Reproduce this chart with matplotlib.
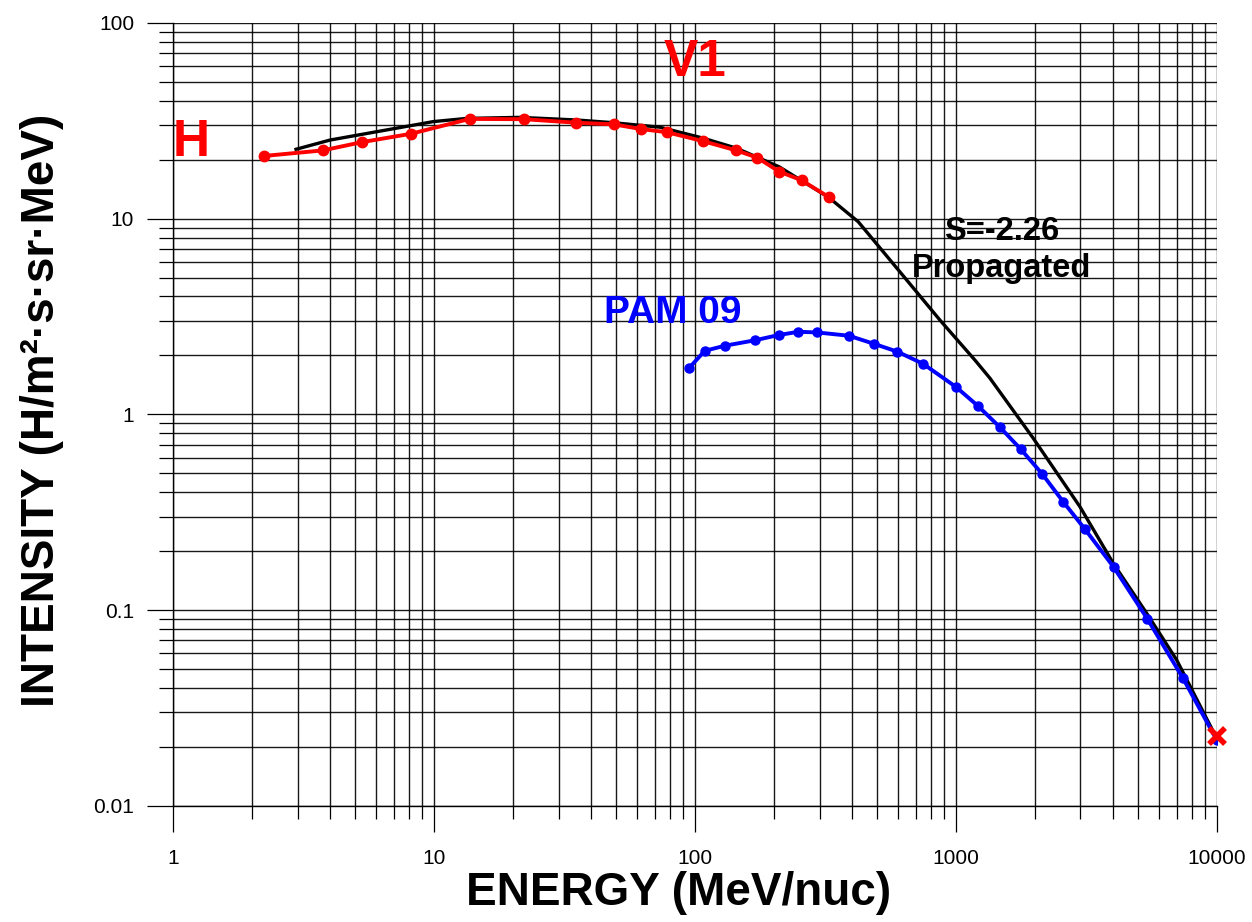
import matplotlib
matplotlib.use("Agg")
import matplotlib.pyplot as plt
from matplotlib.ticker import LogLocator, NullFormatter, FuncFormatter

plt.rcParams['font.family'] = ['Liberation Sans', 'DejaVu Sans']

# Voyager 1 hydrogen spectrum (red)
h_energy = [2.24, 3.75, 5.31, 8.14, 13.7, 22.1, 35.0, 48.9, 61.9, 78.3,
            107, 144, 173, 210, 256, 325]
h_flux = [20.9, 22.3, 24.6, 27.1, 32.3, 32.2, 30.9, 30.3, 28.7, 27.6,
          24.9, 22.3, 20.5, 17.4, 15.7, 12.9]

# PAMELA 2009 (blue)
pam_energy = [94.8, 109, 130, 170, 209, 249, 294, 389, 486, 596, 749,
              1000, 1217, 1474, 1774, 2142, 2577, 3127, 4030, 5407, 7413, 9974]
pam_flux = [1.72, 2.11, 2.24, 2.39, 2.54, 2.64, 2.62, 2.52, 2.29, 2.09, 1.81,
            1.38, 1.10, 0.859, 0.662, 0.495, 0.357, 0.258, 0.165, 0.0903, 0.0448, 0.0217]

# propagated spectrum, S=-2.26 (black)
prop_energy = [2.96, 4.0, 9.94, 13.35, 21.3, 35.2, 48.6, 73.4, 107, 144, 210,
               325, 422, 647, 868, 1183, 1349, 1978, 2986, 4008, 5381, 7013, 9700]
prop_flux = [22.6, 25.2, 31.3, 32.5, 32.9, 31.9, 30.9, 29.3, 25.8, 22.9, 18.4,
             12.85, 9.64, 4.86, 3.03, 1.89, 1.53, 0.754, 0.337, 0.173, 0.0962, 0.0555, 0.0238]

# high energy end point (red x)
end_energy = [10000]
end_flux = [0.0228]

fig = plt.figure(figsize=(12.52, 9.22), dpi=100)
ax = fig.add_axes([0.1382, 0.1261, 0.9720 - 0.1382, 0.9752 - 0.1261])

ax.plot(prop_energy, prop_flux, color='black', linewidth=2.4, zorder=3)
ax.plot(pam_energy, pam_flux, color='#0000ff', linewidth=2.8, marker='o',
        markersize=6.5, zorder=4)
ax.plot(h_energy, h_flux, color='#ff0000', linewidth=2.8, marker='o',
        markersize=7.5, zorder=5)
ax.plot(end_energy, end_flux, linestyle='none', marker='x', color='#ff0000',
        markersize=12, markeredgewidth=4, zorder=6, clip_on=False)

ax.set_xscale('log')
ax.set_yscale('log')
ax.set_xlim(1, 10000)
ax.set_ylim(0.01, 100)

for axis in (ax.xaxis, ax.yaxis):
    axis.set_major_locator(LogLocator(base=10))
    axis.set_minor_locator(LogLocator(base=10, subs=range(2, 10)))
    axis.set_minor_formatter(NullFormatter())
    axis.set_major_formatter(FuncFormatter(lambda v, p: '%g' % v))

ax.grid(True, which='both', color='black', linewidth=1.0, alpha=0.9)
ax.set_axisbelow(True)

ax.tick_params(axis='x', which='major', length=19, width=0.9, pad=12, labelsize=15)
ax.tick_params(axis='x', which='minor', length=9, width=0.9)
ax.tick_params(axis='y', which='major', length=19, width=0.9, pad=9, labelsize=15)
ax.tick_params(axis='y', which='minor', length=10, width=0.9)

for s in ax.spines.values():
    s.set_linewidth(1.0)
ax.spines['top'].set_visible(False)
ax.spines['right'].set_visible(False)

# labels in the plot
ax.text(1.17, 24.4, 'H', color='#ff0000', fontsize=37, fontweight='bold',
        ha='center', va='center')
ax.text(100, 62.5, 'V1', color='#ff0000', fontsize=37, fontweight='bold',
        ha='center', va='center')
ax.text(82.4, 3.31, 'PAM 09', color='#0000ff', fontsize=28, fontweight='bold',
        ha='center', va='center')
ax.text(1500, 8.54, 'S=-2.26', color='black', fontsize=23.5, fontweight='bold',
        ha='center', va='center')
ax.text(1500, 5.59, 'Propagated', color='black', fontsize=23.5, fontweight='bold',
        ha='center', va='center')

fig.text(0.5423, 0.018, 'ENERGY (MeV/nuc)', fontsize=33, fontweight='bold',
         ha='center', va='baseline')
fig.text(0.016, 0.5553, 'INTENSITY (H/m²·s·sr·MeV)', fontsize=33,
         fontweight='bold', rotation=90, ha='left', va='center')

fig.savefig('out.png', dpi=100)
